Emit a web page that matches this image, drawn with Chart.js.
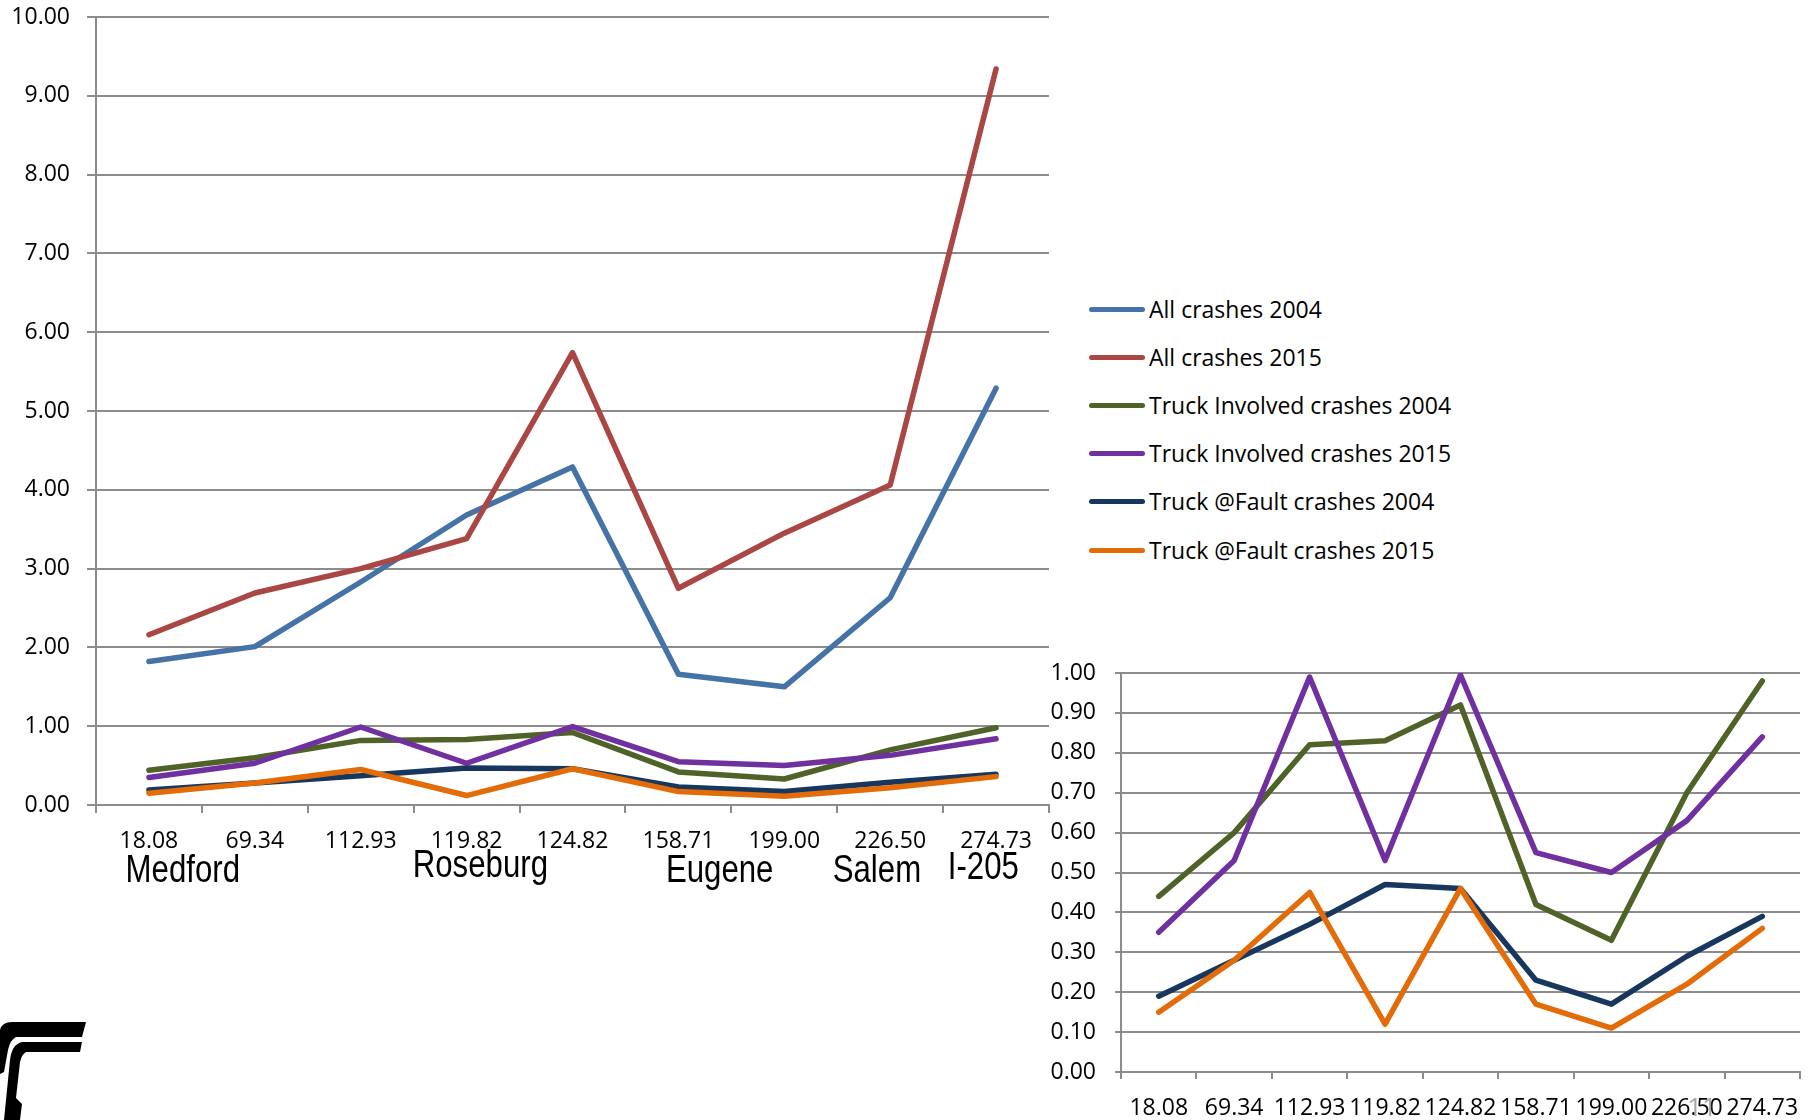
<!DOCTYPE html>
<html>
<head>
<meta charset="utf-8">
<title>Crash rates by milepost</title>
<script src="https://cdn.jsdelivr.net/npm/chart.js@4.4.0/dist/chart.umd.min.js"></script>
<style>
  html, body { margin: 0; padding: 0; background: #fff; }
  body { width: 1817px; height: 1120px; position: relative; overflow: hidden; font-family: "Open Sans", sans-serif; }
  #main-chart { position: absolute; left: 0; top: 0; }
  #inset-chart { position: absolute; left: 1040px; top: 640px; }
  #legend { position: absolute; left: 1089px; top: 285px; }
  .legend-row { display: flex; align-items: center; height: 48.2px; }
  .legend-line { display: inline-block; width: 56px; height: 5px; border-radius: 3px; margin-right: 4px; }
  .legend-text { font-size: 23px; line-height: 23px; color: #000; white-space: nowrap; }
</style>
</head>
<body>
<canvas id="main-chart" width="1060" height="1120"></canvas>
<canvas id="inset-chart" width="777" height="480"></canvas>
<div id="legend"></div>

<script>
// mileposts along the corridor
const categories = ['18.08', '69.34', '112.93', '119.82', '124.82', '158.71', '199.00', '226.50', '274.73'];

// crash rates per segment
const allCrashes2004 = [1.82, 2.01, 2.83, 3.68, 4.29, 1.66, 1.50, 2.63, 5.29];
const allCrashes2015 = [2.16, 2.69, 3.00, 3.38, 5.74, 2.75, 3.45, 4.06, 9.34];
const truckInvolved2004 = [0.44, 0.60, 0.82, 0.83, 0.92, 0.42, 0.33, 0.70, 0.98];
const truckInvolved2015 = [0.35, 0.53, 0.99, 0.53, 0.995, 0.55, 0.50, 0.63, 0.84];
const truckFault2004 = [0.19, 0.28, 0.37, 0.47, 0.46, 0.23, 0.17, 0.29, 0.39];
const truckFault2015 = [0.15, 0.28, 0.45, 0.12, 0.46, 0.17, 0.11, 0.22, 0.36];

const seriesLabels = [
    'All crashes 2004', 'All crashes 2015',
    'Truck Involved crashes 2004', 'Truck Involved crashes 2015',
    'Truck @Fault crashes 2004', 'Truck @Fault crashes 2015'
];
const seriesColors = ['#4572A7', '#AA4643', '#4F6228', '#7030A0', '#17375E', '#E36C09'];

// city names under the main x axis, anchored on a fractional category index
const cityNames = ['Medford', 'Roseburg', 'Eugene', 'Salem', 'I-205'];
const cityAnchors = [0.32, 3.13, 5.39, 6.875, 7.88];
const cityBaselines = [882, 877, 882, 882, 879];

const gridColor = '#8c8c8c';
const tickFont = { family: 'Open Sans', size: 23 };

function makeDataset(label, values, color, order) {
    return {
        label: label,
        data: values,
        borderColor: color,
        backgroundColor: color,
        borderWidth: 5.5,
        borderCapStyle: 'round',
        borderJoinStyle: 'round',
        pointRadius: 0,
        tension: 0,
        fill: false,
        order: order
    };
}

const allSeries = [allCrashes2004, allCrashes2015, truckInvolved2004, truckInvolved2015, truckFault2004, truckFault2015];

// later series sit on top, like the original
const mainDatasets = allSeries.map((values, i) => makeDataset(seriesLabels[i], values, seriesColors[i], allSeries.length - i));
const insetDatasets = allSeries.slice(2).map((values, i) => makeDataset(seriesLabels[i + 2], values, seriesColors[i + 2], 4 - i));

const cityLabelsPlugin = {
    id: 'cityLabels',
    afterDraw(chart) {
        const ctx = chart.ctx;
        const xScale = chart.scales.x;
        ctx.save();
        ctx.font = '39px "Liberation Sans", Arial, sans-serif';
        ctx.fillStyle = '#000';
        ctx.textAlign = 'center';
        ctx.textBaseline = 'alphabetic';
        cityNames.forEach((name, i) => {
            const px = xScale.getPixelForValue(cityAnchors[i]);
            ctx.save();
            ctx.translate(px, cityBaselines[i]);
            ctx.scale(0.8, 1);
            ctx.fillText(name, 0, 0);
            ctx.restore();
        });
        ctx.restore();
    }
};

// the corner of the agency logo peeking in at bottom left
const logoPlugin = {
    id: 'logoCorner',
    afterDraw(chart) {
        const ctx = chart.ctx;
        ctx.save();
        ctx.fillStyle = '#000';
        ctx.beginPath();
        ctx.moveTo(86, 1022);
        ctx.lineTo(82, 1037);
        ctx.lineTo(16, 1037);
        ctx.quadraticCurveTo(10, 1040, 8, 1050);
        ctx.lineTo(4, 1072);
        ctx.lineTo(0, 1074);
        ctx.lineTo(0, 1030);
        ctx.quadraticCurveTo(2, 1022, 12, 1022);
        ctx.closePath();
        ctx.fill();
        ctx.beginPath();
        ctx.moveTo(82, 1042);
        ctx.lineTo(80, 1052);
        ctx.lineTo(26, 1052);
        ctx.quadraticCurveTo(22, 1054, 20, 1062);
        ctx.lineTo(16, 1098);
        ctx.lineTo(22, 1104);
        ctx.lineTo(20, 1120);
        ctx.lineTo(4, 1120);
        ctx.lineTo(10, 1060);
        ctx.quadraticCurveTo(12, 1044, 22, 1042);
        ctx.closePath();
        ctx.fill();
        ctx.restore();
    }
};

const pageNumberPlugin = {
    id: 'pageNumber',
    afterDraw(chart) {
        const ctx = chart.ctx;
        ctx.save();
        ctx.font = '26px "Open Sans", sans-serif';
        ctx.fillStyle = '#a6a6a6';
        ctx.textAlign = 'center';
        ctx.textBaseline = 'alphabetic';
        ctx.fillText('11', 662, 476);
        ctx.restore();
    }
};

new Chart(document.getElementById('main-chart'), {
    type: 'line',
    data: { labels: categories, datasets: mainDatasets },
    options: {
        responsive: false,
        animation: false,
        layout: { padding: { top: 17, right: 11, bottom: 220, left: 0 } },
        plugins: { legend: { display: false }, tooltip: { enabled: false } },
        scales: {
            x: {
                offset: true,
                grid: { offset: true, drawOnChartArea: false, tickLength: 8, color: gridColor, lineWidth: 2 },
                border: { color: gridColor, width: 2 },
                ticks: { font: tickFont, color: '#000', padding: 15, autoSkip: false, maxRotation: 0 },
                afterFit: scale => { scale.height = 95; }
            },
            y: {
                min: 0,
                max: 10,
                grid: { color: gridColor, lineWidth: 2, tickLength: 9 },
                border: { color: gridColor, width: 2 },
                ticks: { stepSize: 1, font: tickFont, color: '#000', padding: 17, callback: v => v.toFixed(2) },
                afterFit: scale => {
                    scale.width = 96;
                    scale.paddingTop = 0;
                    scale.paddingBottom = 0;
                }
            }
        }
    },
    plugins: [cityLabelsPlugin, logoPlugin]
});

new Chart(document.getElementById('inset-chart'), {
    type: 'line',
    data: { labels: categories, datasets: insetDatasets },
    options: {
        responsive: false,
        animation: false,
        layout: { padding: { top: 33, right: 17, bottom: 0, left: 0 } },
        plugins: { legend: { display: false }, tooltip: { enabled: false } },
        scales: {
            x: {
                offset: true,
                grid: { offset: true, drawOnChartArea: false, tickLength: 7, color: gridColor, lineWidth: 2 },
                border: { color: gridColor, width: 2 },
                ticks: { font: tickFont, color: '#000', padding: 16, autoSkip: false, maxRotation: 0 },
                afterFit: scale => { scale.height = 48; }
            },
            y: {
                min: 0,
                max: 1,
                grid: { color: gridColor, lineWidth: 2, tickLength: 6 },
                border: { color: gridColor, width: 2 },
                ticks: { stepSize: 0.1, font: tickFont, color: '#000', padding: 19, callback: v => v.toFixed(2) },
                afterFit: scale => {
                    scale.width = 81;
                    scale.paddingTop = 0;
                    scale.paddingBottom = 0;
                }
            }
        }
    },
    plugins: [pageNumberPlugin]
});

// legend built from the series lists
const legendDiv = document.getElementById('legend');
seriesLabels.forEach((label, i) => {
    const row = document.createElement('div');
    row.className = 'legend-row';
    const line = document.createElement('span');
    line.className = 'legend-line';
    line.style.background = seriesColors[i];
    const text = document.createElement('span');
    text.className = 'legend-text';
    text.textContent = label;
    row.appendChild(line);
    row.appendChild(text);
    legendDiv.appendChild(row);
});
</script>
</body>
</html>
